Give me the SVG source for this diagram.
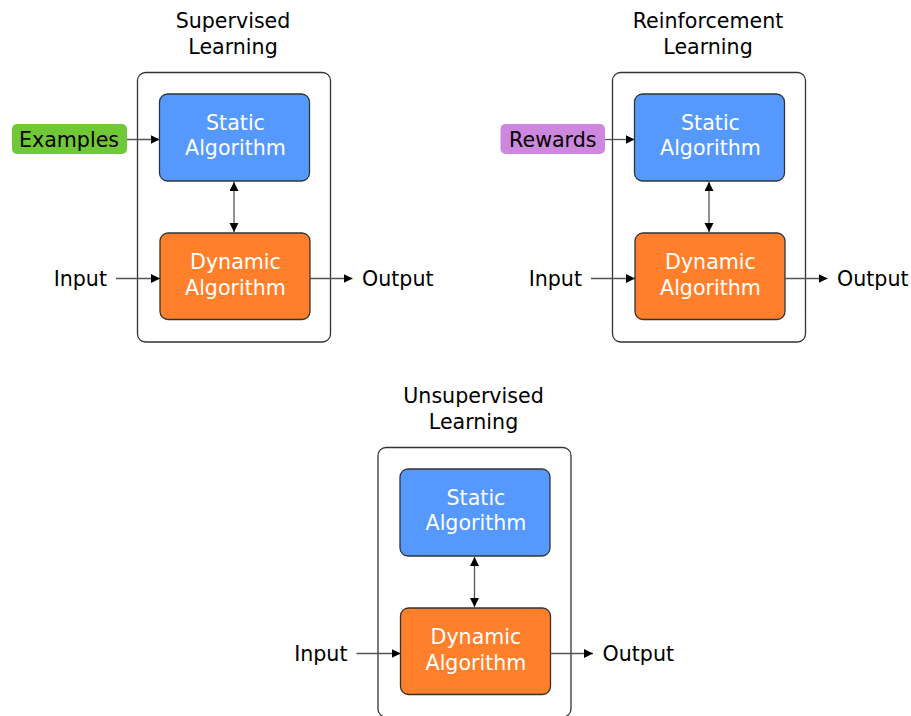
<svg xmlns="http://www.w3.org/2000/svg" width="911" height="716" viewBox="0 0 911 716">
  <defs>
    <marker id="arrow" markerUnits="userSpaceOnUse" markerWidth="10" markerHeight="10" refX="9" refY="4.5" orient="auto-start-reverse">
      <path d="M0,0 L9,4.5 L0,9 z" fill="#000"/>
    </marker>
    <style>
      text { font-family: "DejaVu Sans", "Liberation Sans", sans-serif; font-size: 20.6px; fill: #000; }
      .mid { text-anchor: middle; }
      .end { text-anchor: end; }
      .white { fill: #fff; }
      .frame { fill: #fff; stroke: #333; stroke-width: 1.3; }
      .static { fill: #5599ff; stroke: #333; stroke-width: 1.3; }
      .dynamic { fill: #ff7f2a; stroke: #333; stroke-width: 1.3; }
      .examples { fill: #71c837; }
      .rewards { fill: #cd87de; }
      .link { fill: none; stroke: #555; stroke-width: 1.3; marker-end: url(#arrow); }
      .both { marker-start: url(#arrow); }
    </style>
  </defs>

  <!-- Supervised learning -->
  <g id="supervised">
    <text class="mid" x="233" y="28">Supervised</text>
    <text class="mid" x="233" y="54">Learning</text>
    <rect class="frame" x="137.5" y="72.5" width="193" height="269.5" rx="8"/>
  </g>
  <g id="supervised-static">
    <rect class="static" x="159.5" y="94" width="150" height="87" rx="8"/>
    <text class="mid white" x="235.5" y="129.5">Static</text>
    <text class="mid white" x="235.5" y="155">Algorithm</text>
  </g>
  <g id="supervised-dynamic">
    <rect class="dynamic" x="160" y="233" width="150" height="86.5" rx="8"/>
    <text class="mid white" x="235.5" y="269">Dynamic</text>
    <text class="mid white" x="235.5" y="295">Algorithm</text>
  </g>
  <g id="supervised-examples">
    <rect class="examples" x="12" y="124" width="115" height="30" rx="5"/>
    <text class="mid" x="69" y="146.5">Examples</text>
  </g>
  <g id="supervised-input"><text class="end" x="107" y="285.5">Input</text></g>
  <g id="supervised-output"><text x="362" y="285.5">Output</text></g>

  <!-- Reinforcement learning -->
  <g id="reinforcement">
    <text class="mid" x="708" y="28">Reinforcement</text>
    <text class="mid" x="708" y="54">Learning</text>
    <rect class="frame" x="612.5" y="72.5" width="193" height="269.5" rx="8"/>
  </g>
  <g id="reinforcement-static">
    <rect class="static" x="634.5" y="94" width="150" height="87" rx="8"/>
    <text class="mid white" x="710.5" y="129.5">Static</text>
    <text class="mid white" x="710.5" y="155">Algorithm</text>
  </g>
  <g id="reinforcement-dynamic">
    <rect class="dynamic" x="635" y="233" width="150" height="86.5" rx="8"/>
    <text class="mid white" x="710.5" y="269">Dynamic</text>
    <text class="mid white" x="710.5" y="295">Algorithm</text>
  </g>
  <g id="reinforcement-rewards">
    <rect class="rewards" x="500.5" y="124" width="104.5" height="30" rx="5"/>
    <text class="mid" x="552.8" y="146.5">Rewards</text>
  </g>
  <g id="reinforcement-input"><text class="end" x="582" y="285.5">Input</text></g>
  <g id="reinforcement-output"><text x="837" y="285.5">Output</text></g>

  <!-- Unsupervised learning -->
  <g id="unsupervised">
    <text class="mid" x="473.5" y="403">Unsupervised</text>
    <text class="mid" x="473.5" y="429">Learning</text>
    <rect class="frame" x="378" y="447.5" width="193" height="269.5" rx="8"/>
  </g>
  <g id="unsupervised-static">
    <rect class="static" x="400" y="469" width="150" height="87" rx="8"/>
    <text class="mid white" x="476" y="504.5">Static</text>
    <text class="mid white" x="476" y="530">Algorithm</text>
  </g>
  <g id="unsupervised-dynamic">
    <rect class="dynamic" x="400.5" y="608" width="150" height="86.5" rx="8"/>
    <text class="mid white" x="476" y="644">Dynamic</text>
    <text class="mid white" x="476" y="670">Algorithm</text>
  </g>
  <g id="unsupervised-input"><text class="end" x="347.5" y="660.5">Input</text></g>
  <g id="unsupervised-output"><text x="602.5" y="660.5">Output</text></g>

  <!-- Connectors -->
  <g id="connectors">
    <line class="link" x1="127" y1="139.5" x2="159.5" y2="139.5"/>
    <line class="link both" x1="234" y1="182" x2="234" y2="232"/>
    <line class="link" x1="116" y1="278.5" x2="160" y2="278.5"/>
    <line class="link" x1="310" y1="278.5" x2="352.5" y2="278.5"/>

    <line class="link" x1="605" y1="139.5" x2="634.5" y2="139.5"/>
    <line class="link both" x1="709" y1="182" x2="709" y2="232"/>
    <line class="link" x1="591" y1="278.5" x2="635" y2="278.5"/>
    <line class="link" x1="785" y1="278.5" x2="827.5" y2="278.5"/>

    <line class="link both" x1="474.5" y1="557" x2="474.5" y2="607"/>
    <line class="link" x1="356.5" y1="653.5" x2="400.5" y2="653.5"/>
    <line class="link" x1="550.5" y1="653.5" x2="593" y2="653.5"/>
  </g>
</svg>
